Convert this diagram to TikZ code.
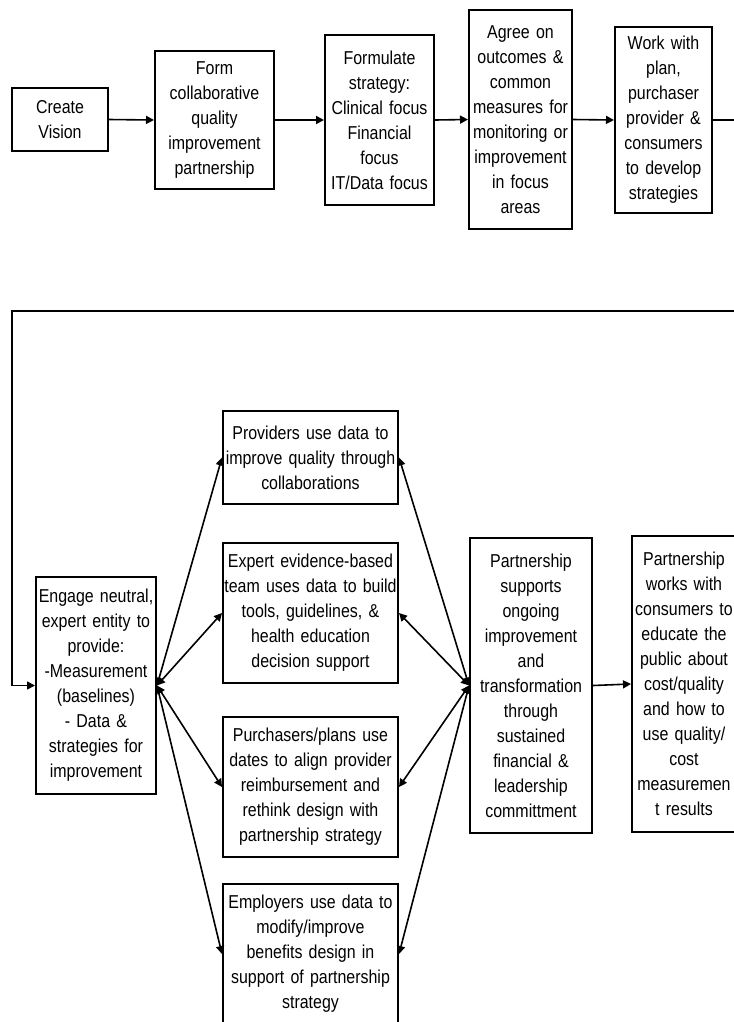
\documentclass[tikz,border=0pt]{standalone}
\usepackage{fontspec}
\setmainfont{Liberation Sans}[FakeStretch=0.855]
\usetikzlibrary{arrows.meta}
\tikzset{
  box/.style={draw, line width=1.5pt, inner sep=0pt, align=center,
    font=\fontsize{14}{18.75}\selectfont},
  arr/.style={line width=1.2pt, -{Triangle[length=6pt,width=6pt]}},
  darr/.style={line width=1.2pt, {Triangle[length=6pt,width=6pt]}-{Triangle[length=6pt,width=6pt]}},
  plain/.style={line width=1.2pt}
}
\newcommand\bx[6]{%
  \pgfmathsetlengthmacro\bxw{(#4-#2)*0.75pt}%
  \pgfmathsetlengthmacro\bxh{(#5-#3)*0.75pt}%
  \node[box, text width=\bxw, minimum height=\bxh] (#1) at ({(#2+#4)/2},{(#3+#5)/2}) {#6};}
\begin{document}
\begin{tikzpicture}[x=0.75pt,y=-0.75pt]
\useasboundingbox (0,0) rectangle (734,1022);
\clip (0,0) rectangle (734,1022);
% top row
\bx{b1}{12}{88}{108}{151}{Create\\Vision}
\bx{b2}{155}{51}{274}{189}{Form\\collaborative\\quality\\improvement\\partnership}
\bx{b3}{325}{35}{434}{205}{Formulate\\strategy:\\Clinical focus\\Financial\\focus\\IT/Data focus}
\bx{b4}{469}{10}{572}{229}{Agree on\\outcomes \&\\common\\measures for\\monitoring or\\improvement\\in focus\\areas}
\bx{b5}{615}{27}{712}{213}{Work with\\plan,\\purchaser\\provider \&\\consumers\\to develop\\strategies}
% lower part
\bx{L}{36}{577}{156}{794}{Engage neutral,\\expert entity to\\provide:\\-Measurement\\(baselines)\\- Data \&\\strategies for\\improvement}
\bx{P1}{223}{411}{398}{504}{Providers use data to\\improve quality through\\collaborations}
\bx{P2}{223}{543}{398}{683}{Expert evidence-based\\team uses data to build\\tools, guidelines, \&\\health education\\decision support}
\bx{P3}{223}{717}{398}{857}{Purchasers/plans use\\dates to align provider\\reimbursement and\\rethink design with\\partnership strategy}
\bx{P4}{223}{884}{398}{1024}{Employers use data to\\modify/improve\\benefits design in\\support of partnership\\strategy}
\bx{PS}{470}{538}{592}{833}{Partnership\\supports\\ongoing\\improvement\\and\\transformation\\through\\sustained\\financial \&\\leadership\\committment}
\bx{R}{632}{536}{736}{832}{Partnership\\works with\\consumers to\\educate the\\public about\\cost/quality\\and how to\\use quality/\\cost\\measuremen\\t results}
% connectors top
\draw[arr] (b1.east) -- (b2.west);
\draw[arr] (b2.east) -- (b3.west);
\draw[arr] (b3.east) -- (b4.west);
\draw[arr] (b4.east) -- (b5.west);
\coordinate (c1) at (760,120);
\coordinate (c2) at (760,311);
\coordinate (c3) at (12,311);
\draw[arr] (b5.east) -- (c1) -- (c2) -- (c3) |- (L.west);
% middle connectors
\foreach \m in {P1,P2,P3,P4}{
  \draw[darr] (L.east) -- (\m.west);
  \draw[darr] (\m.east) -- (PS.west);
}
\draw[arr] (PS.east) -- (R.west);
\end{tikzpicture}
\end{document}
